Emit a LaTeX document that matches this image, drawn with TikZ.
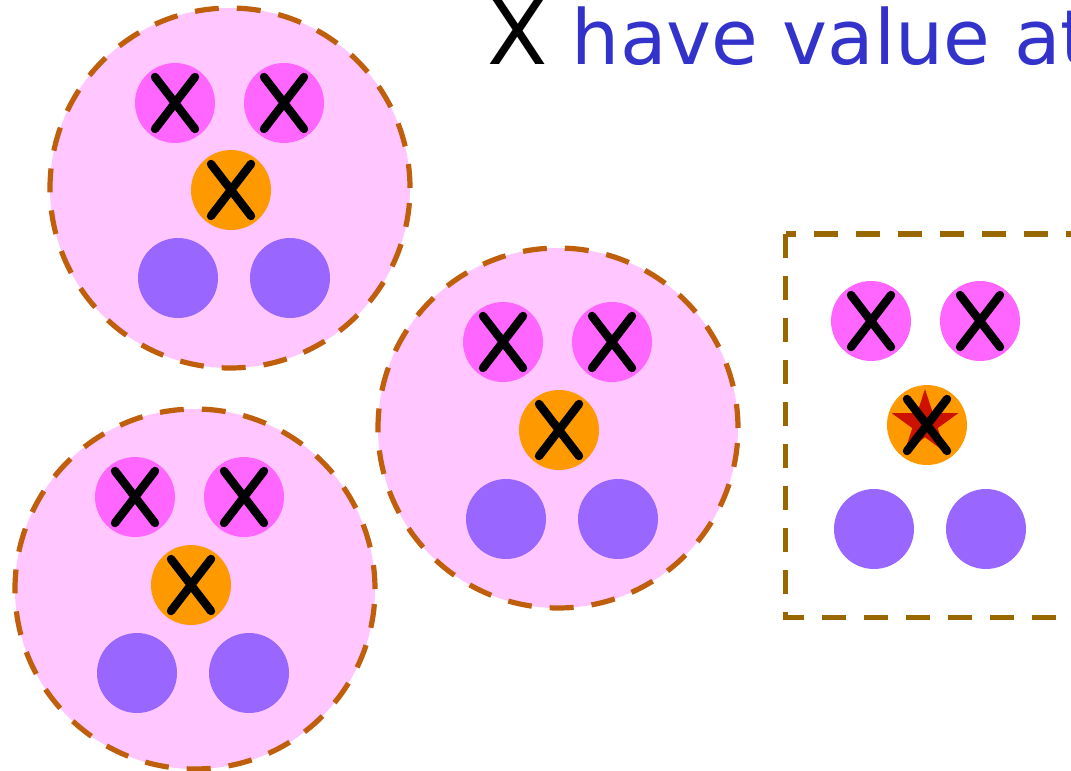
\documentclass[tikz,border=0pt]{standalone}
\usepackage{fontspec}
\usepackage{xcolor}
\usepackage{tikz}
\usetikzlibrary{shapes.geometric}
\newfontfamily\headfont{DejaVu Sans}
\definecolor{cellpink}{HTML}{FFC6FF}
\definecolor{groupedge}{HTML}{BF5F0C}
\definecolor{frameedge}{HTML}{996600}
\definecolor{dotpink}{HTML}{FF66FF}
\definecolor{dotorange}{HTML}{FF9900}
\definecolor{dotpurple}{HTML}{9966FF}
\definecolor{starred}{HTML}{CC1100}
\definecolor{headblue}{HTML}{3333CC}

\begin{document}
\begin{tikzpicture}[x=0.5pt, y=-0.5pt,
    group/.style={circle, draw=groupedge, line width=2.6pt, dash pattern=on 12pt off 9pt, fill=cellpink, minimum size=180pt, inner sep=0pt},
    dot/.style={circle, minimum size=40pt, inner sep=0pt},
    xmark/.style={line width=4.2pt, line cap=round},
    headline/.style={anchor=base west, inner sep=0pt, font=\headfont\fontsize{38}{44}\selectfont, text=headblue},
]
\path[use as bounding box] (0,0) rectangle (1071,771);
\clip (0,0) rectangle (1071,771);

% Groups
\foreach \g/\px/\py in {a/230/188, b/558/428, c/195/589} {
    \node[group] (\g) at (\px,\py) {};
}
\draw[frameedge, line width=2.75pt, dash pattern=on 12pt off 9pt] (785.5,234) rectangle (1100,617.5);

% Dots
\foreach \n/\px/\py in {a1/175/103, a2/284/103, b1/503/342, b2/612/342, c1/135/497, c2/244/497, d1/871/321, d2/980/321} {
    \node[dot, fill=dotpink] (\n) at (\px,\py) {};
}
\foreach \n/\px/\py in {a0/231/190, b0/559/430, c0/191/585, d0/927/425} {
    \node[dot, fill=dotorange] (\n) at (\px,\py) {};
}
\foreach \n/\px/\py in {a3/178/278, a4/290/278, b3/506/519, b4/618/519, c3/137/673, c4/249/673, d3/874/529, d4/986/529} {
    \node[dot, fill=dotpurple] (\n) at (\px,\py) {};
}
\node[star, star points=5, star point ratio=2.618, minimum size=35pt, inner sep=0pt, fill=starred] (d0star) at (925,424) {};

% Marks
\foreach \n in {a1,a2,a0,b1,b2,b0,c1,c2,c0,d1,d2,d0} {
    \draw[xmark] ([shift={(-20,-26)}]\n.center) -- ([shift={(20,26)}]\n.center)
                 ([shift={(20,-26)}]\n.center) -- ([shift={(-20,26)}]\n.center);
}

\node[headline] (head) at (487,64) {\textcolor{black}{\fontsize{44}{48}\selectfont X} have value at};
\end{tikzpicture}
\end{document}
